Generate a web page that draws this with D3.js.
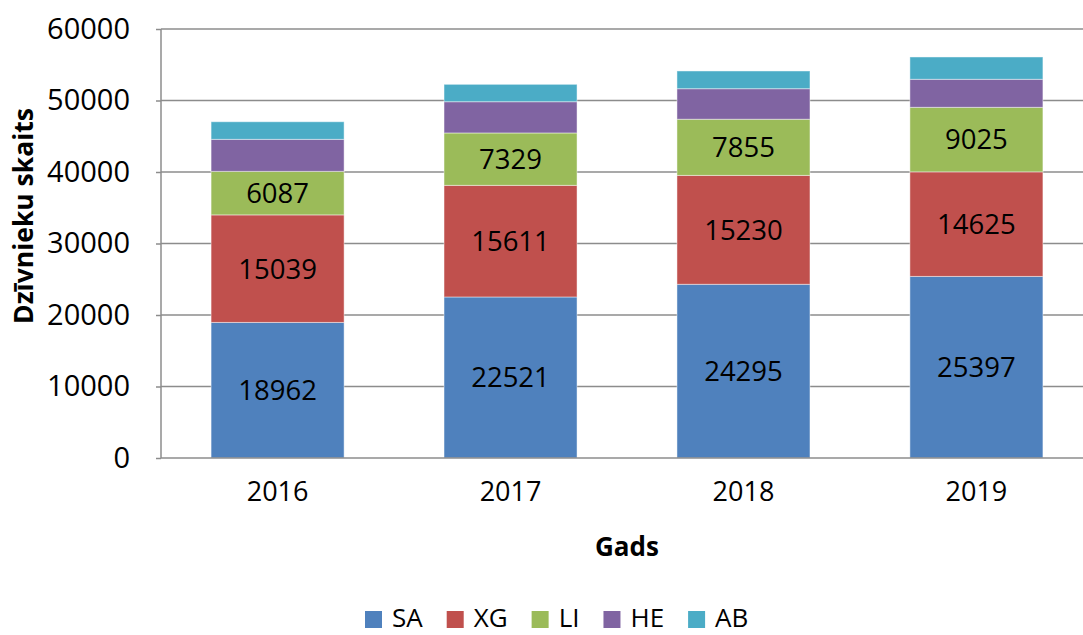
<!DOCTYPE html>
<html>
<head>
<meta charset="utf-8">
<script src="https://cdn.jsdelivr.net/npm/d3@7"></script>
<style>
  body { margin: 0; background: #fff; }
  svg text { font-family: "Open Sans", sans-serif; fill: #000; }
</style>
</head>
<body>
<svg width="1083" height="635"></svg>
<script>
const years = ["2016", "2017", "2018", "2019"];
const seriesNames = ["SA", "XG", "LI", "HE", "AB"];
const SA = [18962, 22521, 24295, 25397];
const XG = [15039, 15611, 15230, 14625];
const LI = [6087, 7329, 7855, 9025];
const HE = [4480, 4370, 4270, 3920];
const AB = [2460, 2430, 2480, 3120];
const yTicks = [0, 10000, 20000, 30000, 40000, 50000, 60000];
const colors = ["#4F81BD", "#C0504D", "#9BBB59", "#8064A2", "#4BACC6"];
const labelled = ["SA", "XG", "LI"];

const svg = d3.select("svg");
const plotLeft = 161, plotRight = 1093, plotTop = 29, plotBottom = 458;

const table = years.map((y, i) => ({
  year: y, SA: SA[i], XG: XG[i], LI: LI[i], HE: HE[i], AB: AB[i]
}));
const stacked = d3.stack().keys(seriesNames)(table);

const x = d3.scaleBand().domain(years).range([plotLeft, plotRight])
  .paddingInner(0.429).paddingOuter(0.215);
const y = d3.scaleLinear().domain([0, 60000]).range([plotBottom, plotTop]);
const color = d3.scaleOrdinal().domain(seriesNames).range(colors);

// gridlines
svg.append("g")
  .selectAll("line")
  .data(yTicks.filter(d => d > 0))
  .join("line")
  .attr("x1", plotLeft).attr("x2", plotRight)
  .attr("y1", d => y(d)).attr("y2", d => y(d))
  .attr("stroke", "#8c8c8c").attr("stroke-width", 1.5);

// bars
const layer = svg.append("g")
  .selectAll("g")
  .data(stacked)
  .join("g")
  .attr("fill", d => color(d.key));

layer.selectAll("rect")
  .data(d => d)
  .join("rect")
  .attr("x", d => x(d.data.year))
  .attr("y", d => y(d[1]))
  .attr("width", x.bandwidth())
  .attr("height", d => y(d[0]) - y(d[1]))
  .attr("stroke", "rgba(255,255,255,0.45)")
  .attr("stroke-width", 1);

// data labels
svg.append("g")
  .selectAll("g")
  .data(stacked.filter(s => labelled.includes(s.key)))
  .join("g")
  .selectAll("text")
  .data(d => d)
  .join("text")
  .attr("x", d => x(d.data.year) + x.bandwidth() / 2)
  .attr("y", d => (y(d[0]) + y(d[1])) / 2)
  .attr("dy", "0.36em")
  .attr("text-anchor", "middle")
  .attr("font-size", 27.5)
  .text(d => d[1] - d[0]);

// y axis
const yAxis = svg.append("g")
  .attr("transform", `translate(${plotLeft},0)`)
  .call(d3.axisLeft(y).tickValues(yTicks).tickSize(5).tickPadding(26).tickFormat(d3.format("d")));
yAxis.select(".domain").attr("stroke", "#8c8c8c").attr("stroke-width", 1.5)
  .attr("d", `M0,${plotTop}V${plotBottom}`);
yAxis.selectAll(".tick line").attr("stroke", "#8c8c8c").attr("stroke-width", 1.5);
yAxis.selectAll(".tick text").attr("font-size", 29).attr("font-family", "Open Sans").attr("fill", "#000");

// x axis
const xAxis = svg.append("g")
  .attr("transform", `translate(0,${plotBottom})`)
  .call(d3.axisBottom(x).tickSize(0).tickPadding(24));
xAxis.select(".domain").attr("stroke", "#8c8c8c").attr("stroke-width", 1.5)
  .attr("d", `M${plotLeft},0H${plotRight}`);
xAxis.selectAll(".tick text").attr("font-size", 27).attr("font-family", "Open Sans").attr("fill", "#000")
  .attr("dy", "0.71em");

// axis titles
svg.append("text")
  .attr("transform", "translate(33,216) rotate(-90)")
  .attr("text-anchor", "middle")
  .attr("font-size", 26.5).attr("font-weight", "bold")
  .text("Dzīvnieku skaits");

svg.append("text")
  .attr("x", (plotLeft + plotRight) / 2).attr("y", 556)
  .attr("text-anchor", "middle")
  .attr("font-size", 26).attr("font-weight", "bold")
  .text("Gads");

// legend
const legend = svg.append("g");
const items = legend.selectAll("g").data(seriesNames).join("g");
items.append("rect")
  .attr("width", 17).attr("height", 17)
  .attr("y", 611)
  .attr("fill", d => color(d));
items.append("text")
  .attr("x", 27).attr("y", 627)
  .attr("font-size", 26)
  .text(d => d);
const widths = [];
items.each(function () {
  widths.push(27 + this.querySelector("text").getComputedTextLength());
});
const gap = 24;
let cx = 365;
items.attr("transform", (d, i) => {
  const t = `translate(${cx},0)`;
  cx += widths[i] + gap;
  return t;
});
</script>
</body>
</html>
